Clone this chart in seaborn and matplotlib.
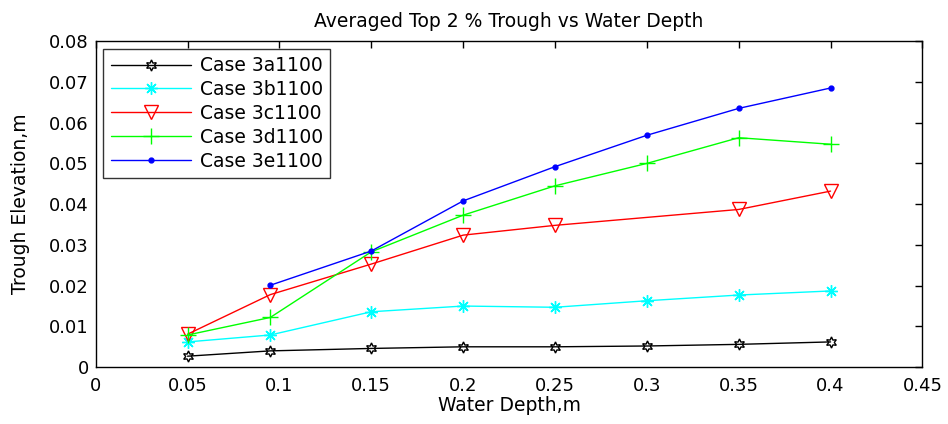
import numpy as np
import pandas as pd
import matplotlib
matplotlib.use("Agg")
import matplotlib.pyplot as plt
import seaborn as sns

labels = ["Case 3a1100", "Case 3b1100", "Case 3c1100", "Case 3d1100", "Case 3e1100"]
x_a = [0.05, 0.095, 0.15, 0.2, 0.25, 0.3, 0.35, 0.4]
y_a = [0.0027, 0.0040, 0.0046, 0.0050, 0.0050, 0.0052, 0.0056, 0.0062]
x_b = [0.05, 0.095, 0.15, 0.2, 0.25, 0.3, 0.35, 0.4]
y_b = [0.0062, 0.0079, 0.0136, 0.0150, 0.0147, 0.0163, 0.0177, 0.0187]
x_c = [0.05, 0.095, 0.15, 0.2, 0.25, 0.35, 0.4]
y_c = [0.0081, 0.0178, 0.0253, 0.0324, 0.0348, 0.0387, 0.0432]
x_d = [0.05, 0.095, 0.15, 0.2, 0.25, 0.3, 0.35, 0.4]
y_d = [0.0079, 0.0122, 0.0283, 0.0373, 0.0445, 0.0500, 0.0563, 0.0547]
x_e = [0.095, 0.15, 0.2, 0.25, 0.3, 0.35, 0.4]
y_e = [0.0201, 0.0285, 0.0408, 0.0492, 0.0569, 0.0635, 0.0685]

xs = [x_a, x_b, x_c, x_d, x_e]
ys = [y_a, y_b, y_c, y_d, y_e]
colors = ["#000000", "#00FFFF", "#FF0000", "#00FF00", "#0000FF"]
markers = [(6, 1, 0), (8, 2, 0), "v", "+", "o"]
msizes = [8, 9, 10, 11, 3.5]

sns.set_style("white")
plt.rcParams['font.family'] = ['DejaVu Sans']
plt.rcParams['text.color'] = 'black'

fs = 13.5
fig = plt.figure(figsize=(9.48, 4.24), dpi=100)
ax = fig.add_axes([0.101, 0.134, 0.872, 0.769])

for lab, xv, yv, c, m, ms in zip(labels, xs, ys, colors, markers, msizes):
    df = pd.DataFrame({"x": xv, "y": yv})
    sns.lineplot(data=df, x="x", y="y", ax=ax, color=c, linewidth=1.0,
                 marker=m, markersize=ms,
                 markerfacecolor=(c if m == "o" else "none"),
                 markeredgecolor=c, markeredgewidth=1.0, label=lab)

ax.set_xlim(0, 0.45)
ax.set_ylim(0, 0.08)
ax.set_xticks(np.arange(0, 0.451, 0.05))
ax.set_xticklabels(["0", "0.05", "0.1", "0.15", "0.2", "0.25", "0.3", "0.35", "0.4", "0.45"])
ax.set_yticks(np.arange(0, 0.081, 0.01))
ax.set_yticklabels(["0", "0.01", "0.02", "0.03", "0.04", "0.05", "0.06", "0.07", "0.08"])
ax.tick_params(direction="in", length=5, width=1, top=True, right=True,
               labelsize=13, colors="black", pad=5)
ax.tick_params(axis="x", pad=7)
for s in ax.spines.values():
    s.set_color("black")
    s.set_linewidth(1.0)

ax.set_title("Averaged Top 2 % Trough vs Water Depth", fontsize=fs, pad=10, color="black")
ax.set_xlabel("Water Depth,m", fontsize=fs, labelpad=1, color="black")
ax.set_ylabel("Trough Elevation,m", fontsize=fs, labelpad=14, color="black")

leg = ax.legend(loc="upper left", fontsize=fs, frameon=True, fancybox=False,
                edgecolor="black", handlelength=4.3, handletextpad=0.45,
                borderaxespad=0.4, labelspacing=0.26, borderpad=0.4)
leg.get_frame().set_linewidth(1.0)
for t in leg.get_texts():
    t.set_color("black")

fig.savefig("out.png", dpi=100)
